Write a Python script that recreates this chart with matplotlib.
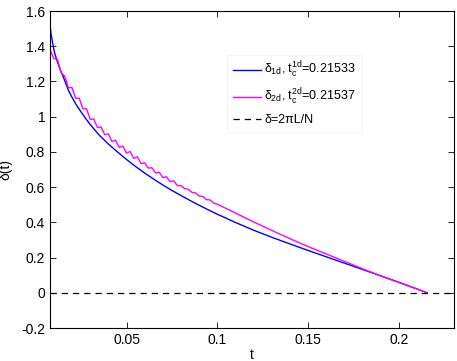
import matplotlib
matplotlib.use("Agg")
import matplotlib.pyplot as plt

plt.rcParams['font.family'] = ['Liberation Sans', 'DejaVu Sans']
plt.rcParams['mathtext.fontset'] = 'custom'
plt.rcParams['mathtext.rm'] = 'Liberation Sans'
plt.rcParams['mathtext.it'] = 'Liberation Sans'
plt.rcParams['mathtext.bf'] = 'Liberation Sans:bold'

# blue curve: delta_1d(t)
t_1d = [0.0079, 0.0085, 0.0095, 0.0105, 0.012, 0.014, 0.016, 0.018, 0.020, 0.0225,
        0.025, 0.0275, 0.030, 0.0325, 0.035, 0.040, 0.045, 0.050, 0.055, 0.060,
        0.065, 0.070, 0.075, 0.080, 0.085, 0.090, 0.095, 0.100, 0.11, 0.12,
        0.13, 0.14, 0.15, 0.16, 0.17, 0.18, 0.19, 0.20, 0.21, 0.21533]
d_1d = [1.52, 1.47, 1.41, 1.36, 1.31, 1.255, 1.205, 1.15, 1.11, 1.065,
        1.027, 0.99, 0.956, 0.925, 0.895, 0.845, 0.80, 0.757, 0.717, 0.680,
        0.645, 0.612, 0.581, 0.552, 0.524, 0.497, 0.471, 0.446, 0.399, 0.355,
        0.315, 0.277, 0.240, 0.204, 0.168, 0.132, 0.096, 0.059, 0.021, 0.0]

# magenta curve: delta_2d(t) (with small oscillations)
t_2d = [0.008, 0.010, 0.012, 0.014, 0.016, 0.018, 0.020, 0.022, 0.024, 0.026,
        0.028, 0.030, 0.032, 0.034, 0.036, 0.038, 0.040, 0.042, 0.044, 0.046,
        0.048, 0.050, 0.052, 0.054, 0.056, 0.058, 0.060, 0.062, 0.064, 0.066,
        0.068, 0.070, 0.072, 0.074, 0.076, 0.078, 0.080, 0.082, 0.084, 0.086,
        0.088, 0.090, 0.092, 0.094, 0.096, 0.098, 0.100, 0.105, 0.11, 0.115,
        0.12, 0.125, 0.13, 0.135, 0.14, 0.145, 0.15, 0.16, 0.17, 0.18,
        0.19, 0.20, 0.21, 0.21537]
d_2d = [1.38, 1.33, 1.325, 1.25, 1.23, 1.165, 1.165, 1.105, 1.105, 1.045,
        1.045, 0.985, 0.987, 0.938, 0.942, 0.898, 0.902, 0.86, 0.866, 0.825,
        0.833, 0.793, 0.802, 0.763, 0.772, 0.733, 0.738, 0.708, 0.71, 0.681,
        0.684, 0.654, 0.659, 0.631, 0.636, 0.608, 0.609, 0.591, 0.588, 0.570,
        0.567, 0.549, 0.547, 0.529, 0.527, 0.509, 0.503, 0.478, 0.453, 0.427,
        0.402, 0.378, 0.354, 0.330, 0.307, 0.284, 0.262, 0.220, 0.178, 0.136,
        0.095, 0.058, 0.021, 0.0]

delta_ref = 0.0
x_ticks = [0.05, 0.1, 0.15, 0.2]
x_tick_labels = ['0.05', '0.1', '0.15', '0.2']
y_ticks = [-0.2, 0, 0.2, 0.4, 0.6, 0.8, 1, 1.2, 1.4, 1.6]
y_tick_labels = ['-0.2', '0', '0.2', '0.4', '0.6', '0.8', '1', '1.2', '1.4', '1.6']

fig = plt.figure(figsize=(4.57, 3.61), dpi=100)
ax = fig.add_axes([0.1094, 0.0914, 0.8840, 0.8781])

ax.plot(t_1d, d_1d, color='#0000ff', lw=1.0,
        label=r'$\delta_{\mathrm{1d}}$, $\mathrm{t}_{\mathrm{c}}^{\mathrm{1d}}$=0.21533')
ax.plot(t_2d, d_2d, color='#ff00ff', lw=1.0,
        label=r'$\delta_{\mathrm{2d}}$, $\mathrm{t}_{\mathrm{c}}^{\mathrm{2d}}$=0.21537')
ax.axhline(delta_ref, color='black', lw=0.9, ls=(0, (5, 4)), label=r'δ=2πL/N')

ax.set_xlim(0.0079, 0.2302)
ax.set_ylim(-0.2, 1.6)
ax.set_xticks(x_ticks)
ax.set_xticklabels(x_tick_labels)
ax.set_yticks(y_ticks)
ax.set_yticklabels(y_tick_labels)
ax.tick_params(direction='in', top=True, right=True, labelsize=10, length=4, width=0.6)
for s in ax.spines.values():
    s.set_linewidth(0.8)

ax.set_xlabel('t', fontsize=10, labelpad=1)
ax.set_ylabel('δ(t)', fontsize=10, labelpad=6)

leg = ax.legend(loc='upper left', bbox_to_anchor=(0.438, 0.862), fontsize=9,
                frameon=True, fancybox=False, edgecolor='#f0f0f0', framealpha=1,
                handlelength=2.25, labelspacing=0.55, borderpad=0.45,
                handletextpad=0.3, borderaxespad=0)
leg.get_frame().set_linewidth(0.5)

fig.savefig('out.png', dpi=100)
